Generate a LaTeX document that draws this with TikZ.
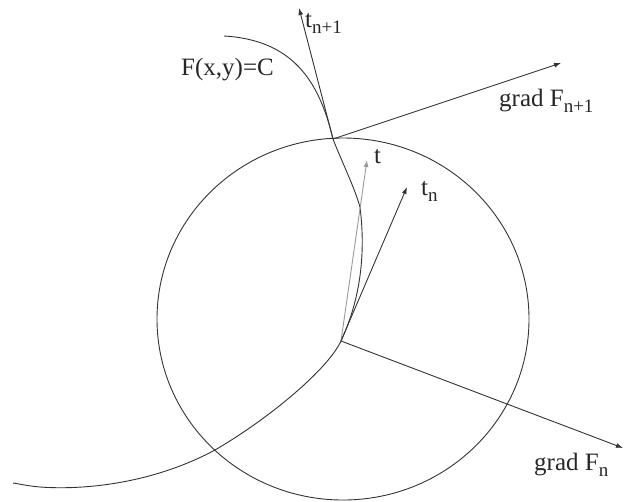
\documentclass[tikz,border=0pt]{standalone}
\usepackage{fontspec}
\setmainfont{Liberation Serif}
\usetikzlibrary{arrows.meta}
\newcommand\lowsub[1]{\raisebox{-6pt}{\fontsize{19}{19}\selectfont #1}}
\tikzset{
  ln/.style={draw=black!80, line width=0.9pt},
  vec/.style={ln, -{Latex[length=7pt,width=5pt]}},
  gvec/.style={draw=black!40, line width=0.9pt, -{Latex[length=7pt,width=5pt]}},
  lbl/.style={anchor=base west, inner sep=0pt, text=black!85, font=\fontsize{25}{29}\selectfont}
}
\begin{document}
\begin{tikzpicture}[x=1pt,y=-1pt]
\useasboundingbox (0,0) rectangle (642,501);
% points
\coordinate (Pn1) at (333,139);
\coordinate (Pn) at (341,341);
\coordinate (K) at (360,207);
\coordinate (X) at (215,450);
\coordinate (S) at (224,36);
\coordinate (E) at (13,483);
\coordinate (tn1tip) at (299,8);
\coordinate (gn1tip) at (561,63);
\coordinate (tntip) at (407,187);
\coordinate (ttip) at (367,160);
\coordinate (gntip) at (623,448);
\coordinate (O) at (343,319);
% circle
\draw[ln] (O) ellipse [x radius=186, y radius=181];
% level curve F(x,y)=C
\draw[ln] (S) .. controls (292,40) and (319,80) .. (Pn1)
  .. controls (341,160) and (354,186) .. (K)
  .. controls (366,255) and (360,300) .. (Pn)
  .. controls (328,369) and (270,418) .. (X)
  .. controls (150,485) and (80,490) .. (40,487)
  .. controls (28,486) and (20,484) .. (E);
% vectors
\draw[vec] (Pn1) -- (tn1tip);
\draw[vec] (Pn1) -- (gn1tip);
\draw[gvec] (Pn) -- (ttip);
\draw[vec] (Pn) -- (tntip);
\draw[vec] (Pn) -- (gntip);
% labels
\node[lbl] (lF) at (181,75) {F(x,y)=C};
\node[lbl] (ltn1) at (305,27) {t\lowsub{n+1}};
\node[lbl] (lgn1) at (499,106) {grad F\lowsub{n+1}};
\node[lbl] (lt) at (374,163) {t};
\node[lbl] (ltn) at (421,195) {t\lowsub{n}};
\node[lbl] (lgn) at (534,470) {grad F\lowsub{n}};
\end{tikzpicture}
\end{document}
